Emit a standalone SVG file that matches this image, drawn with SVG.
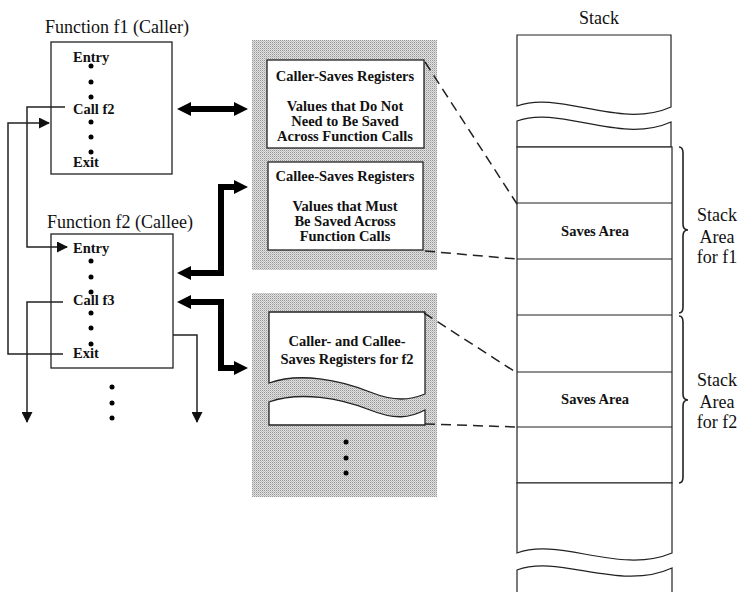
<svg xmlns="http://www.w3.org/2000/svg" width="740" height="592" viewBox="0 0 740 592">
<defs>
<pattern id="stip" width="2" height="2" patternUnits="userSpaceOnUse">
<rect width="2" height="2" fill="#e0e0e0"/>
<rect width="1" height="1" fill="#989898"/>
<rect x="1" y="1" width="1" height="1" fill="#c0c0c0"/>
</pattern>
<marker id="ah" markerWidth="11" markerHeight="11" refX="10" refY="5.5" orient="auto" markerUnits="userSpaceOnUse">
<path d="M0,0 L11,5.5 L0,11 Z" fill="#111"/>
</marker>
</defs>
<style>
.t{font-family:"Liberation Serif","Times New Roman",serif;fill:#111}
.title{font-size:18px}
.b{font-size:14.5px;font-weight:bold}
.m{text-anchor:middle}
.box{fill:#fff;stroke:#222;stroke-width:1.3}
.thin{fill:none;stroke:#222;stroke-width:1.5}
.thick{fill:none;stroke:#000;stroke-width:6}
.head{fill:#000}
.dash{fill:none;stroke:#222;stroke-width:1.5;stroke-dasharray:10 6}
.st{fill:#fff;stroke:#222;stroke-width:1.2}
.stl{fill:none;stroke:#222;stroke-width:1.2}
.dot{fill:#000}
</style>

<g id="f1">
<text class="t title" x="45" y="33">Function f1 (Caller)</text>
<rect class="box" x="51" y="42" width="121" height="132"/>
<text class="t b" x="73" y="62">Entry</text>
<circle class="dot" cx="91" cy="66" r="2.5"/>
<circle class="dot" cx="91" cy="82" r="2.5"/>
<circle class="dot" cx="91" cy="97" r="2.5"/>
<text class="t b" x="73" y="114">Call f2</text>
<circle class="dot" cx="91" cy="122" r="2.5"/>
<circle class="dot" cx="91" cy="137" r="2.5"/>
<circle class="dot" cx="91" cy="152" r="2.5"/>
<text class="t b" x="73" y="167">Exit</text>
</g>

<g id="f2">
<text class="t title" x="47" y="228">Function f2 (Callee)</text>
<rect class="box" x="51" y="234" width="122" height="134"/>
<text class="t b" x="73" y="253">Entry</text>
<circle class="dot" cx="91" cy="261" r="2.5"/>
<circle class="dot" cx="91" cy="277" r="2.5"/>
<circle class="dot" cx="91" cy="292" r="2.5"/>
<text class="t b" x="73" y="305">Call f3</text>
<circle class="dot" cx="91" cy="313" r="2.5"/>
<circle class="dot" cx="91" cy="328" r="2.5"/>
<circle class="dot" cx="91" cy="344" r="2.5"/>
<text class="t b" x="73" y="358">Exit</text>
<circle class="dot" cx="112" cy="387" r="2.5"/>
<circle class="dot" cx="112" cy="403" r="2.5"/>
<circle class="dot" cx="112" cy="418" r="2.5"/>
</g>

<g id="panel1">
<rect x="252" y="40" width="185" height="230" fill="url(#stip)"/>
</g>
<g id="panel2">
<rect x="252" y="293" width="185" height="204" fill="url(#stip)"/>
</g>

<g id="caller-saves">
<rect class="box" x="267" y="60" width="157" height="88"/>
<text class="t b m" x="345" y="81">Caller-Saves Registers</text>
<text class="t b m" x="345" y="111">Values that Do Not</text>
<text class="t b m" x="345" y="126">Need to Be Saved</text>
<text class="t b m" x="345" y="141">Across Function Calls</text>
</g>

<g id="callee-saves">
<rect class="box" x="268" y="162" width="155" height="88"/>
<text class="t b m" x="345" y="181">Callee-Saves Registers</text>
<text class="t b m" x="345" y="211">Values that Must</text>
<text class="t b m" x="345" y="226">Be Saved Across</text>
<text class="t b m" x="345" y="241">Function Calls</text>
</g>

<g id="f2-saves">
<path class="box" d="M269,312 H425 V394 C410,400 395,402 370,392 C340,380 300,372 269,383 Z"/>
<path class="box" d="M269,402 C300,391 340,398 370,410 C395,420 410,418 425,410 V425 H269 Z"/>
<text class="t b m" x="347" y="346">Caller- and Callee-</text>
<text class="t b m" x="347" y="364">Saves Registers for f2</text>
<circle class="dot" cx="346" cy="442" r="2.5"/>
<circle class="dot" cx="346" cy="458" r="2.5"/>
<circle class="dot" cx="346" cy="473" r="2.5"/>
</g>

<g id="stack">
<text class="t title m" x="599" y="24">Stack</text>
<path class="st" d="M517,35 H671 V107 C620,130 560,90 517,106 Z"/>
<path class="st" d="M517,147 V121 C560,105 620,145 671,122 V147 Z"/>
<rect class="st" x="517" y="147" width="155" height="336"/>
<line class="stl" x1="517" y1="203" x2="672" y2="203"/>
<line class="stl" x1="517" y1="259" x2="672" y2="259"/>
<line class="stl" x1="517" y1="315" x2="672" y2="315"/>
<line class="stl" x1="517" y1="372" x2="672" y2="372"/>
<line class="stl" x1="517" y1="427" x2="672" y2="427"/>
<path class="st" d="M517,483 V553 C560,537 620,575 672,553 V483 Z"/>
<path class="st" d="M517,600 V570 C560,554 620,592 672,568 V600 Z"/>
<text class="t b m" x="595" y="236">Saves Area</text>
<text class="t b m" x="595" y="404">Saves Area</text>
</g>

<g id="frame-f1">
<path class="stl" d="M679,147 Q683,147 683,153 V224 Q683,230 688,230 Q683,230 683,236 V307 Q683,313 679,313" style="stroke-width:1.6"/>
<text class="t title m" x="717" y="221">Stack</text>
<text class="t title m" x="717" y="243">Area</text>
<text class="t title m" x="717" y="263">for f1</text>
</g>

<g id="frame-f2">
<path class="stl" d="M679,316 Q683,316 683,322 V394 Q683,400 688,400 Q683,400 683,406 V477 Q683,483 679,483" style="stroke-width:1.6"/>
<text class="t title m" x="717" y="386">Stack</text>
<text class="t title m" x="717" y="408">Area</text>
<text class="t title m" x="717" y="428">for f2</text>
</g>

<g id="connectors">
<polyline class="thin" points="65,107 27,107 27,247 67,247" marker-end="url(#ah)"/>
<polyline class="thin" points="63,354 8,354 8,123 49,123" marker-end="url(#ah)"/>
<polyline class="thin" points="63,302 27,302 27,422" marker-end="url(#ah)"/>
<polyline class="thin" points="173,335 197,335 197,422" marker-end="url(#ah)"/>

<line class="thick" x1="187" y1="109" x2="238" y2="109"/>
<polygon class="head" points="177,109 191,102 191,116"/>
<polygon class="head" points="248,109 234,102 234,116"/>

<polyline class="thick" points="187,273 221,273 221,187 238,187"/>
<polygon class="head" points="177,273 191,266 191,280"/>
<polygon class="head" points="248,187 234,180 234,194"/>

<polyline class="thick" points="187,302 221,302 221,368 238,368"/>
<polygon class="head" points="177,302 191,295 191,309"/>
<polygon class="head" points="248,368 234,361 234,375"/>

<line class="dash" x1="425" y1="62" x2="517" y2="204"/>
<line class="dash" x1="425" y1="251" x2="517" y2="259"/>
<line class="dash" x1="424" y1="313" x2="517" y2="373"/>
<line class="dash" x1="425" y1="424" x2="517" y2="427"/>
</g>
</svg>
